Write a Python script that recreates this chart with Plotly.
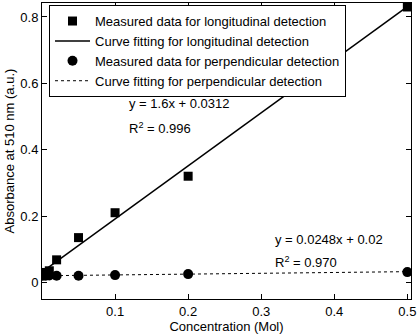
import plotly.graph_objects as go

conc = [0.001, 0.005, 0.01, 0.02, 0.05, 0.1, 0.2, 0.5]
long_abs = [0.025, 0.03, 0.035, 0.068, 0.135, 0.21, 0.32, 0.83]
perp_abs = [0.02, 0.02, 0.021, 0.02, 0.02, 0.022, 0.025, 0.031]
long_fit_x = [0.005, 0.5]
long_slope, long_icpt = 1.6, 0.0312
perp_fit_x = [0.0, 0.5]
perp_slope, perp_icpt = 0.0248, 0.02
x_ticks = [0.1, 0.2, 0.3, 0.4, 0.5]
y_ticks = [0, 0.2, 0.4, 0.6, 0.8]

font = dict(family="Liberation Sans, Arial, sans-serif", size=13, color="black")

fig = go.Figure()
fig.add_trace(go.Scatter(x=conc, y=long_abs, mode="markers",
                         marker=dict(symbol="square", size=9, color="black"),
                         name="Measured data for longitudinal detection"))
fig.add_trace(go.Scatter(x=long_fit_x, y=[long_slope * v + long_icpt for v in long_fit_x],
                         mode="lines", line=dict(color="black", width=1.5),
                         name="Curve fitting for longitudinal detection"))
fig.add_trace(go.Scatter(x=conc, y=perp_abs, mode="markers",
                         marker=dict(symbol="circle", size=10, color="black"),
                         name="Measured data for perpendicular detection"))
fig.add_trace(go.Scatter(x=perp_fit_x, y=[perp_slope * v + perp_icpt for v in perp_fit_x],
                         mode="lines", line=dict(color="black", width=1, dash="dot"),
                         name="Curve fitting for perpendicular detection"))

fig.add_annotation(x=0.116, y=0.54, xref="x", yref="y", text="y = 1.6x + 0.0312",
                   showarrow=False, xanchor="left", font=font)
fig.add_annotation(x=0.116, y=0.465, xref="x", yref="y", text="R<sup>2</sup> = 0.996",
                   showarrow=False, xanchor="left", font=font)
fig.add_annotation(x=0.316, y=0.128, xref="x", yref="y", text="y = 0.0248x + 0.02",
                   showarrow=False, xanchor="left", font=font)
fig.add_annotation(x=0.316, y=0.062, xref="x", yref="y", text="R<sup>2</sup> = 0.970",
                   showarrow=False, xanchor="left", font=font)

axis_common = dict(showgrid=False, zeroline=False, showline=True, linecolor="black",
                   linewidth=1, mirror="ticks", ticks="inside", ticklen=5,
                   tickcolor="black", tickfont=font)
fig.update_xaxes(range=[0, 0.505], tickvals=x_ticks, ticktext=[str(v) for v in x_ticks],
                 title=dict(text="Concentration (Mol)", font=font, standoff=4), **axis_common)
fig.update_yaxes(range=[-0.05, 0.842], tickvals=y_ticks, ticktext=["0", "0.2", "0.4", "0.6", "0.8"],
                 title=dict(text="Absorbance at 510 nm (a.u.)", font=font, standoff=2), **axis_common)

fig.update_layout(
    width=418, height=335,
    margin=dict(l=42, r=7, t=3, b=36),
    plot_bgcolor="white", paper_bgcolor="white",
    font=font,
    legend=dict(x=0.019, y=0.993, xanchor="left", yanchor="top",
                bgcolor="white", bordercolor="black", borderwidth=1,
                font=font, tracegroupgap=0, itemwidth=35),
)

fig.write_html("out.html", config={"displayModeBar": False},
               post_script="document.body.style.margin='0';document.body.style.overflow='hidden';")
